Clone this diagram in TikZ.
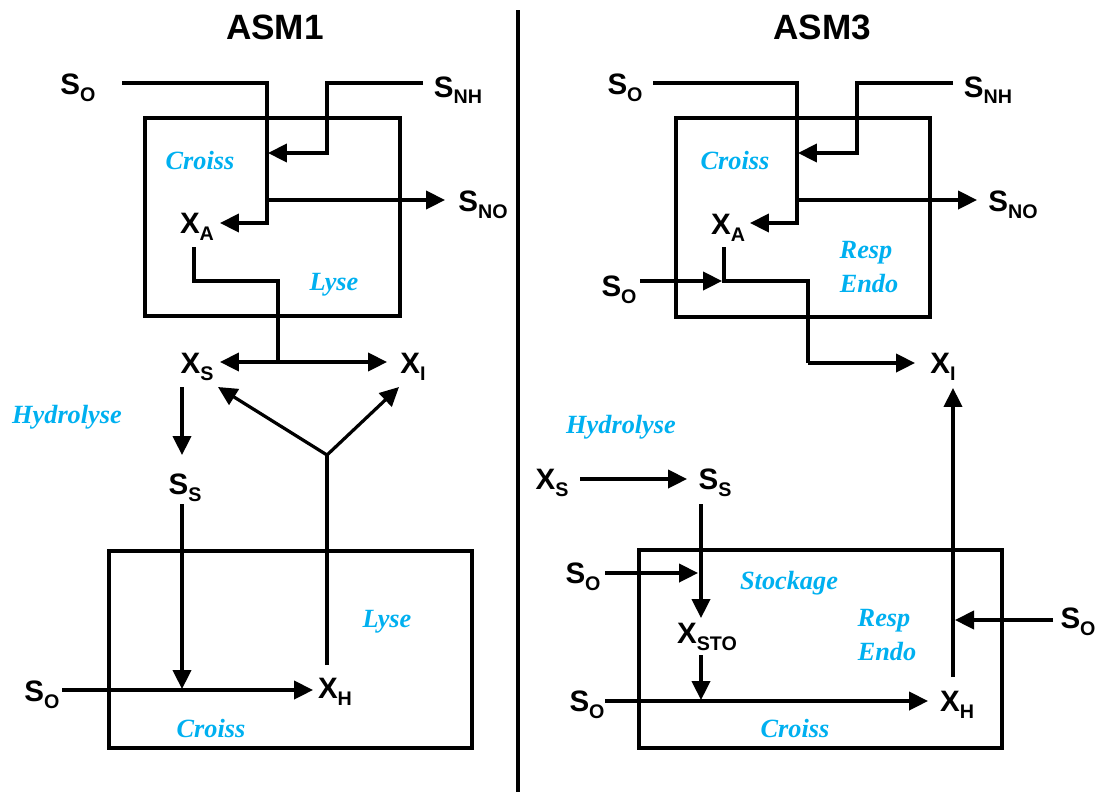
\documentclass[tikz,border=0pt]{standalone}
\usepackage{fontspec}
\setmainfont{Liberation Serif}
\newfontfamily\arialfont{Liberation Sans}
\usetikzlibrary{arrows.meta}
\definecolor{procblue}{RGB}{0,176,240}
\newcommand{\chem}[2]{#1\raisebox{-4.7pt}{\fontsize{14}{14}\selectfont #2}}
\tikzset{
  var/.style={font=\arialfont\bfseries\fontsize{21}{21}\selectfont, inner sep=0pt},
  proc/.style={font=\bfseries\itshape\fontsize{18.7}{20}\selectfont, text=procblue, inner sep=0pt},
  ttl/.style={font=\arialfont\bfseries\fontsize{25}{25}\selectfont, inner sep=0pt},
  flow/.style={line width=2.3pt, -{Triangle[length=13.5pt,width=13pt]}},
  wire/.style={line width=2.3pt},
  reactor/.style={line width=2.9pt},
}
\begin{document}
\begin{tikzpicture}[x=0.025cm,y=-0.025cm]
\useasboundingbox (0,0) rectangle (1096,792);
% divider
\draw[line width=3pt] (518,10) -- (518,792);
% titles
\node[ttl] (t1) at (275,27) {ASM1};
\node[ttl] (t3) at (822,27) {ASM3};

% ================= ASM1 =================
\draw[reactor] (145,118) rectangle (400,316);
\draw[reactor] (109,551) rectangle (472,748);

\node[var] (soA) at (78,88) {\chem{S}{O}};
\node[var] (snhA) at (458,90) {\chem{S}{NH}};
\node[var] (snoA) at (483,205) {\chem{S}{NO}};
\node[var] (xaA) at (197,227) {\chem{X}{A}};
\node[var] (xsA) at (197,367) {\chem{X}{S}};
\node[var] (xiA) at (413,367) {\chem{X}{I}};
\node[var] (ssA) at (185,488) {\chem{S}{S}};
\node[var] (soB) at (42,695) {\chem{S}{O}};
\node[var] (xhA) at (335,692) {\chem{X}{H}};

\node[proc] (cr1) at (200,160) {Croiss};
\node[proc] (ly1) at (334,285) {Lyse};
\node[proc] (hy1) at (67,417) {Hydrolyse};
\node[proc] (ly2) at (387,622) {Lyse};
\node[proc] (cr2) at (211,728) {Croiss};

\coordinate (a1) at (122,83);
\coordinate (a2) at (267,83);
\coordinate (a3) at (267,223);
\coordinate (a4) at (220,223);
\coordinate (b1) at (423,83);
\coordinate (b2) at (327,83);
\coordinate (b3) at (327,153);
\coordinate (b4) at (268,153);
\coordinate (c1) at (267,200);
\coordinate (c2) at (445,200);
\coordinate (d1) at (194,247);
\coordinate (d2) at (194,281);
\coordinate (d3) at (278,281);
\coordinate (d4) at (278,362);
\coordinate (d5) at (220,362);
\coordinate (d6) at (387,362);
\coordinate (e1) at (182,387);
\coordinate (e2) at (182,455);
\coordinate (f1) at (182,504);
\coordinate (f2) at (182,689);
\coordinate (g1) at (62,690);
\coordinate (g2) at (313,690);
\coordinate (h1) at (327,665);
\coordinate (h2) at (327,455);
\coordinate (h3) at (218,387);
\coordinate (h4) at (399,387);

\draw[flow] (a1) -- (a2) -- (a3) -- (a4);
\draw[flow] (b1) -- (b2) -- (b3) -- (b4);
\draw[flow] (c1) -- (c2);
\draw[wire] (d1) -- (d2) -- (d3) -- (d4);
\draw[flow] (d4) -- (d5);
\draw[flow] (d4) -- (d6);
\draw[flow] (e1) -- (e2);
\draw[flow] (f1) -- (f2);
\draw[flow] (g1) -- (g2);
\draw[wire] (h1) -- (h2);
\draw[flow] (h2) -- (h3);
\draw[flow] (h2) -- (h4);

% ================= ASM3 =================
\draw[reactor] (676,118) rectangle (930,317);
\draw[reactor] (639,550) rectangle (1002,748);

\node[var] (soC) at (625,88) {\chem{S}{O}};
\node[var] (snhC) at (988,90) {\chem{S}{NH}};
\node[var] (snoC) at (1013,205) {\chem{S}{NO}};
\node[var] (xaC) at (728,228) {\chem{X}{A}};
\node[var] (soD) at (619,290) {\chem{S}{O}};
\node[var] (xiC) at (943,367) {\chem{X}{I}};
\node[var] (xsC) at (552,483) {\chem{X}{S}};
\node[var] (ssC) at (715,483) {\chem{S}{S}};
\node[var] (soE) at (583,577) {\chem{S}{O}};
\node[var] (xstoC) at (707,637) {\chem{X}{STO}};
\node[var] (soF) at (587,705) {\chem{S}{O}};
\node[var] (xhC) at (957,705) {\chem{X}{H}};
\node[var] (soG) at (1078,622) {\chem{S}{O}};

\node[proc] (cr3) at (735,160) {Croiss};
\node[proc] (re1) at (866,253) {Resp};
\node[proc] (en1) at (869,283) {Endo};
\node[proc] (hy2) at (621,427) {Hydrolyse};
\node[proc] (st1) at (789,583) {Stockage};
\node[proc] (re2) at (884,621) {Resp};
\node[proc] (en2) at (887,651) {Endo};
\node[proc] (cr4) at (795,728) {Croiss};

\coordinate (p1) at (653,83);
\coordinate (p2) at (797,83);
\coordinate (p3) at (797,223);
\coordinate (p4) at (750,223);
\coordinate (q1) at (953,83);
\coordinate (q2) at (857,83);
\coordinate (q3) at (857,153);
\coordinate (q4) at (798,153);
\coordinate (r1) at (797,200);
\coordinate (r2) at (977,200);
\coordinate (s1) at (724,247);
\coordinate (s2) at (724,281);
\coordinate (s3) at (640,281);
\coordinate (s4) at (722,281);
\coordinate (s5) at (808,281);
\coordinate (s6) at (808,363);
\coordinate (s7) at (915,363);
\coordinate (u1) at (580,479);
\coordinate (u2) at (687,479);
\coordinate (v1) at (701,504);
\coordinate (v2) at (701,618);
\coordinate (w1) at (605,573);
\coordinate (w2) at (698,573);
\coordinate (k1) at (701,655);
\coordinate (k2) at (701,700);
\coordinate (m1) at (605,701);
\coordinate (m2) at (928,701);
\coordinate (n1) at (953,677);
\coordinate (n2) at (953,388);
\coordinate (o1) at (1053,620);
\coordinate (o2) at (955,620);

\draw[wire] (s1) -- (s2) -- (s5) -- (s6);
\draw[flow] (s6) -- (s7);
\draw[flow] (p1) -- (p2) -- (p3) -- (p4);
\draw[flow] (q1) -- (q2) -- (q3) -- (q4);
\draw[flow] (r1) -- (r2);
\draw[flow] (s3) -- (s4);
\draw[flow] (u1) -- (u2);
\draw[flow] (v1) -- (v2);
\draw[flow] (w1) -- (w2);
\draw[flow] (k1) -- (k2);
\draw[flow] (m1) -- (m2);
\draw[flow] (n1) -- (n2);
\draw[flow] (o1) -- (o2);
\end{tikzpicture}
\end{document}
